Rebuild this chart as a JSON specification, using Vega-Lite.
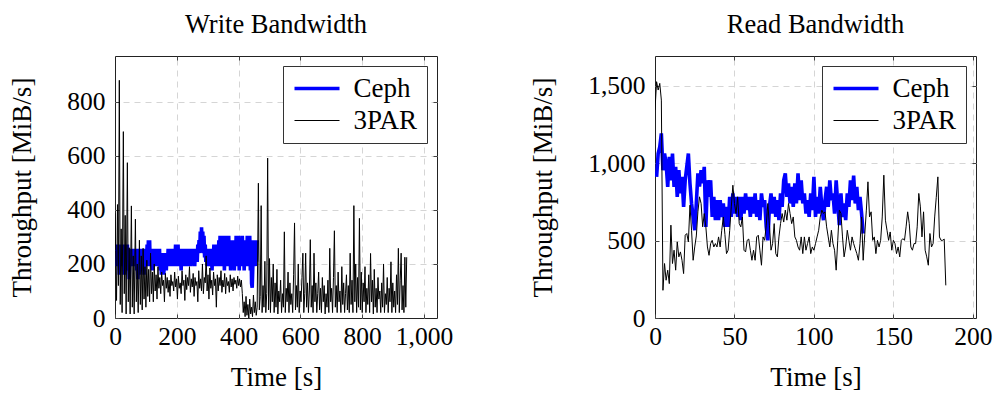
{
"$schema": "https://vega.github.io/schema/vega-lite/v6.json",
"padding": {"left": 8, "top": 11, "right": 0, "bottom": 0},
"bounds": "flush",
"spacing": 218,
"config": {
  "font": "Liberation Serif",
  "view": {"stroke": "#222", "strokeWidth": 1},
  "axis": {"grid": false, "gridColor": "#d5d5d5", "gridDash": [6, 5], "gridWidth": 1, "domain": false, "ticks": true, "tickSize": -4, "tickColor": "#444", "labelFlush": false, "labelFontSize": 25.5, "labelColor": "#000", "labelPadding": 7, "titleFontSize": 27, "titleFontWeight": "normal", "titleColor": "#000"},
  "axisY": {"titlePadding": 30, "labelPadding": 14},
  "axisX": {"titlePadding": 15, "labelPadding": 10},
  "title": {"fontSize": 26.5, "fontWeight": "normal", "color": "#000", "baseline": "alphabetic", "offset": 17, "frame": "group"},
  "legend": {"orient": "top-right", "offset": 10, "padding": 9, "strokeColor": "#333", "fillColor": "#fff", "labelFontSize": 27, "labelColor": "#000", "labelLimit": 300, "symbolType": "M-2.45,0H2.05", "symbolSize": 400, "symbolOffset": 13.5, "labelOffset": 21, "rowPadding": 4}
},
"datasets": {
"wc": [{"t":0,"v":240},{"t":2,"v":208},{"t":4,"v":256},{"t":6,"v":192},{"t":8,"v":272},{"t":10,"v":208},{"t":12,"v":256},{"t":14,"v":160},{"t":16,"v":272},{"t":18,"v":208},{"t":20,"v":256},{"t":22,"v":192},{"t":24,"v":272},{"t":26,"v":208},{"t":28,"v":256},{"t":30,"v":160},{"t":32,"v":272},{"t":34,"v":208},{"t":36,"v":256},{"t":38,"v":192},{"t":40,"v":272},{"t":42,"v":176},{"t":44,"v":256},{"t":46,"v":144},{"t":48,"v":256},{"t":50,"v":208},{"t":52,"v":240},{"t":54,"v":192},{"t":56,"v":256},{"t":58,"v":208},{"t":60,"v":240},{"t":62,"v":192},{"t":64,"v":256},{"t":66,"v":208},{"t":68,"v":240},{"t":70,"v":176},{"t":72,"v":256},{"t":74,"v":144},{"t":76,"v":240},{"t":78,"v":160},{"t":80,"v":256},{"t":82,"v":192},{"t":84,"v":240},{"t":86,"v":208},{"t":88,"v":256},{"t":90,"v":176},{"t":92,"v":240},{"t":94,"v":160},{"t":96,"v":256},{"t":98,"v":192},{"t":100,"v":256},{"t":102,"v":208},{"t":104,"v":272},{"t":106,"v":192},{"t":108,"v":288},{"t":110,"v":208},{"t":112,"v":288},{"t":114,"v":192},{"t":116,"v":256},{"t":118,"v":208},{"t":120,"v":256},{"t":122,"v":176},{"t":124,"v":240},{"t":126,"v":208},{"t":128,"v":256},{"t":130,"v":192},{"t":132,"v":256},{"t":134,"v":208},{"t":136,"v":256},{"t":138,"v":192},{"t":140,"v":256},{"t":142,"v":208},{"t":144,"v":256},{"t":146,"v":176},{"t":148,"v":240},{"t":150,"v":160},{"t":152,"v":240},{"t":154,"v":176},{"t":156,"v":224},{"t":158,"v":160},{"t":160,"v":240},{"t":162,"v":192},{"t":164,"v":224},{"t":166,"v":176},{"t":168,"v":240},{"t":170,"v":208},{"t":172,"v":256},{"t":174,"v":192},{"t":176,"v":256},{"t":178,"v":208},{"t":180,"v":256},{"t":182,"v":192},{"t":184,"v":256},{"t":186,"v":208},{"t":188,"v":240},{"t":190,"v":192},{"t":192,"v":256},{"t":194,"v":208},{"t":196,"v":272},{"t":198,"v":192},{"t":200,"v":272},{"t":202,"v":208},{"t":204,"v":272},{"t":206,"v":192},{"t":208,"v":256},{"t":210,"v":208},{"t":212,"v":256},{"t":214,"v":176},{"t":216,"v":256},{"t":218,"v":208},{"t":220,"v":240},{"t":222,"v":192},{"t":224,"v":256},{"t":226,"v":208},{"t":228,"v":256},{"t":230,"v":192},{"t":232,"v":240},{"t":234,"v":208},{"t":236,"v":256},{"t":238,"v":192},{"t":240,"v":240},{"t":242,"v":208},{"t":244,"v":256},{"t":246,"v":192},{"t":248,"v":256},{"t":250,"v":208},{"t":252,"v":240},{"t":254,"v":208},{"t":256,"v":256},{"t":258,"v":192},{"t":260,"v":256},{"t":262,"v":224},{"t":264,"v":256},{"t":266,"v":208},{"t":268,"v":272},{"t":270,"v":240},{"t":272,"v":288},{"t":274,"v":240},{"t":276,"v":320},{"t":278,"v":256},{"t":280,"v":336},{"t":282,"v":272},{"t":284,"v":320},{"t":286,"v":240},{"t":288,"v":304},{"t":290,"v":224},{"t":292,"v":272},{"t":294,"v":208},{"t":296,"v":256},{"t":298,"v":192},{"t":300,"v":256},{"t":302,"v":208},{"t":304,"v":256},{"t":306,"v":192},{"t":308,"v":240},{"t":310,"v":208},{"t":312,"v":256},{"t":314,"v":176},{"t":316,"v":256},{"t":318,"v":208},{"t":320,"v":272},{"t":322,"v":192},{"t":324,"v":256},{"t":326,"v":208},{"t":328,"v":272},{"t":330,"v":192},{"t":332,"v":256},{"t":334,"v":208},{"t":336,"v":288},{"t":338,"v":192},{"t":340,"v":304},{"t":342,"v":208},{"t":344,"v":304},{"t":346,"v":192},{"t":348,"v":288},{"t":350,"v":208},{"t":352,"v":304},{"t":354,"v":176},{"t":356,"v":288},{"t":358,"v":208},{"t":360,"v":304},{"t":362,"v":192},{"t":364,"v":288},{"t":366,"v":208},{"t":368,"v":304},{"t":370,"v":192},{"t":372,"v":288},{"t":374,"v":176},{"t":376,"v":272},{"t":378,"v":208},{"t":380,"v":288},{"t":382,"v":192},{"t":384,"v":256},{"t":386,"v":176},{"t":388,"v":272},{"t":390,"v":208},{"t":392,"v":304},{"t":394,"v":192},{"t":396,"v":288},{"t":398,"v":208},{"t":400,"v":304},{"t":402,"v":176},{"t":404,"v":288},{"t":406,"v":208},{"t":408,"v":272},{"t":410,"v":192},{"t":412,"v":304},{"t":414,"v":208},{"t":416,"v":288},{"t":418,"v":176},{"t":420,"v":272},{"t":422,"v":224},{"t":424,"v":288},{"t":426,"v":192},{"t":428,"v":304},{"t":430,"v":208},{"t":432,"v":288},{"t":434,"v":192},{"t":436,"v":304},{"t":438,"v":176},{"t":440,"v":288},{"t":442,"v":128},{"t":444,"v":112},{"t":446,"v":192},{"t":448,"v":288},{"t":450,"v":208},{"t":452,"v":288},{"t":454,"v":192},{"t":456,"v":288},{"t":458,"v":208},{"t":460,"v":288}],
"w3": [{"t":0,"v":388},{"t":2,"v":250},{"t":5,"v":65},{"t":8,"v":420},{"t":11,"v":120},{"t":14,"v":880},{"t":17,"v":50},{"t":20,"v":330},{"t":23,"v":20},{"t":27,"v":690},{"t":30,"v":90},{"t":33,"v":380},{"t":36,"v":15},{"t":40,"v":575},{"t":43,"v":60},{"t":46,"v":260},{"t":49,"v":15},{"t":53,"v":415},{"t":56,"v":40},{"t":59,"v":230},{"t":62,"v":15},{"t":66,"v":366},{"t":69,"v":60},{"t":72,"v":200},{"t":75,"v":20},{"t":79,"v":288},{"t":82,"v":50},{"t":85,"v":230},{"t":88,"v":30},{"t":91,"v":258},{"t":94,"v":70},{"t":97,"v":190},{"t":100,"v":40},{"t":103,"v":214},{"t":106,"v":80},{"t":109,"v":180},{"t":112,"v":60},{"t":115,"v":240},{"t":118,"v":90},{"t":121,"v":170},{"t":124,"v":60},{"t":127,"v":200},{"t":130,"v":100},{"t":133,"v":160},{"t":136,"v":70},{"t":139,"v":190},{"t":142,"v":110},{"t":145,"v":150},{"t":148,"v":90},{"t":151,"v":170},{"t":154,"v":120},{"t":157,"v":140},{"t":160,"v":60},{"t":163,"v":165},{"t":166,"v":110},{"t":169,"v":150},{"t":172,"v":95},{"t":175,"v":140},{"t":178,"v":80},{"t":181,"v":160},{"t":184,"v":120},{"t":187,"v":135},{"t":190,"v":100},{"t":193,"v":170},{"t":196,"v":115},{"t":199,"v":145},{"t":202,"v":70},{"t":205,"v":155},{"t":208,"v":110},{"t":211,"v":130},{"t":214,"v":90},{"t":217,"v":175},{"t":220,"v":120},{"t":223,"v":140},{"t":226,"v":65},{"t":229,"v":160},{"t":232,"v":105},{"t":235,"v":150},{"t":238,"v":120},{"t":241,"v":190},{"t":244,"v":95},{"t":247,"v":145},{"t":250,"v":115},{"t":253,"v":165},{"t":256,"v":80},{"t":259,"v":150},{"t":262,"v":120},{"t":265,"v":135},{"t":268,"v":60},{"t":271,"v":175},{"t":274,"v":110},{"t":277,"v":145},{"t":280,"v":100},{"t":283,"v":200},{"t":286,"v":90},{"t":289,"v":150},{"t":292,"v":130},{"t":295,"v":230},{"t":298,"v":100},{"t":301,"v":160},{"t":304,"v":70},{"t":307,"v":185},{"t":310,"v":110},{"t":313,"v":140},{"t":316,"v":85},{"t":319,"v":170},{"t":322,"v":120},{"t":325,"v":145},{"t":328,"v":40},{"t":331,"v":160},{"t":334,"v":100},{"t":337,"v":150},{"t":340,"v":120},{"t":343,"v":175},{"t":346,"v":95},{"t":349,"v":140},{"t":352,"v":115},{"t":355,"v":165},{"t":358,"v":90},{"t":361,"v":150},{"t":364,"v":120},{"t":367,"v":135},{"t":370,"v":95},{"t":373,"v":160},{"t":376,"v":115},{"t":379,"v":145},{"t":382,"v":100},{"t":385,"v":150},{"t":388,"v":125},{"t":391,"v":140},{"t":394,"v":110},{"t":397,"v":155},{"t":400,"v":120},{"t":403,"v":145},{"t":406,"v":115},{"t":409,"v":140},{"t":412,"v":90},{"t":415,"v":20},{"t":418,"v":60},{"t":421,"v":5},{"t":424,"v":80},{"t":427,"v":10},{"t":430,"v":50},{"t":433,"v":0},{"t":436,"v":70},{"t":439,"v":15},{"t":442,"v":40},{"t":445,"v":5},{"t":448,"v":85},{"t":451,"v":20},{"t":454,"v":60},{"t":457,"v":10},{"t":460,"v":40},{"t":464,"v":499},{"t":467,"v":30},{"t":470,"v":80},{"t":473,"v":416},{"t":476,"v":20},{"t":479,"v":120},{"t":482,"v":40},{"t":485,"v":210},{"t":488,"v":20},{"t":491,"v":90},{"t":494,"v":592},{"t":497,"v":30},{"t":500,"v":220},{"t":503,"v":20},{"t":506,"v":150},{"t":509,"v":60},{"t":512,"v":200},{"t":515,"v":20},{"t":518,"v":130},{"t":521,"v":40},{"t":524,"v":180},{"t":527,"v":15},{"t":530,"v":100},{"t":533,"v":60},{"t":536,"v":140},{"t":539,"v":20},{"t":542,"v":90},{"t":545,"v":40},{"t":548,"v":319},{"t":551,"v":20},{"t":554,"v":110},{"t":557,"v":60},{"t":560,"v":170},{"t":563,"v":20},{"t":566,"v":130},{"t":569,"v":50},{"t":572,"v":90},{"t":575,"v":20},{"t":578,"v":160},{"t":581,"v":352},{"t":584,"v":30},{"t":587,"v":120},{"t":590,"v":40},{"t":593,"v":200},{"t":596,"v":20},{"t":599,"v":100},{"t":602,"v":60},{"t":605,"v":150},{"t":608,"v":240},{"t":611,"v":20},{"t":614,"v":90},{"t":617,"v":240},{"t":620,"v":40},{"t":623,"v":130},{"t":626,"v":20},{"t":629,"v":100},{"t":632,"v":290},{"t":635,"v":40},{"t":638,"v":120},{"t":641,"v":20},{"t":644,"v":240},{"t":647,"v":60},{"t":650,"v":130},{"t":653,"v":20},{"t":656,"v":90},{"t":659,"v":170},{"t":662,"v":30},{"t":665,"v":110},{"t":668,"v":20},{"t":671,"v":150},{"t":674,"v":60},{"t":677,"v":120},{"t":680,"v":15},{"t":683,"v":90},{"t":686,"v":40},{"t":689,"v":140},{"t":692,"v":20},{"t":695,"v":258},{"t":698,"v":60},{"t":701,"v":110},{"t":704,"v":20},{"t":707,"v":150},{"t":710,"v":323},{"t":713,"v":40},{"t":716,"v":120},{"t":719,"v":20},{"t":722,"v":170},{"t":725,"v":60},{"t":728,"v":100},{"t":731,"v":20},{"t":734,"v":190},{"t":737,"v":50},{"t":740,"v":130},{"t":743,"v":20},{"t":746,"v":90},{"t":749,"v":160},{"t":752,"v":30},{"t":755,"v":120},{"t":758,"v":20},{"t":761,"v":240},{"t":764,"v":50},{"t":767,"v":140},{"t":770,"v":20},{"t":773,"v":416},{"t":776,"v":60},{"t":779,"v":200},{"t":782,"v":20},{"t":785,"v":150},{"t":788,"v":40},{"t":791,"v":369},{"t":794,"v":30},{"t":797,"v":170},{"t":800,"v":20},{"t":803,"v":130},{"t":806,"v":60},{"t":809,"v":190},{"t":812,"v":20},{"t":815,"v":110},{"t":818,"v":50},{"t":821,"v":160},{"t":824,"v":20},{"t":827,"v":239},{"t":830,"v":60},{"t":833,"v":140},{"t":836,"v":15},{"t":839,"v":180},{"t":842,"v":40},{"t":845,"v":110},{"t":848,"v":20},{"t":851,"v":150},{"t":854,"v":70},{"t":857,"v":100},{"t":860,"v":20},{"t":863,"v":130},{"t":866,"v":40},{"t":869,"v":200},{"t":872,"v":20},{"t":875,"v":90},{"t":878,"v":50},{"t":881,"v":150},{"t":884,"v":20},{"t":887,"v":110},{"t":890,"v":60},{"t":893,"v":208},{"t":896,"v":20},{"t":899,"v":130},{"t":902,"v":40},{"t":905,"v":100},{"t":908,"v":20},{"t":911,"v":160},{"t":914,"v":50},{"t":917,"v":258},{"t":920,"v":20},{"t":923,"v":140},{"t":926,"v":240},{"t":929,"v":30},{"t":932,"v":120},{"t":935,"v":20},{"t":938,"v":225},{"t":941,"v":40},{"t":944,"v":225}],
"rc": [{"t":1,"v":912},{"t":2,"v":1063},{"t":3,"v":1106},{"t":4,"v":1193},{"t":5,"v":955},{"t":6,"v":1063},{"t":7,"v":1000},{"t":8,"v":847},{"t":9,"v":1041},{"t":10,"v":890},{"t":11,"v":1063},{"t":12,"v":847},{"t":13,"v":977},{"t":14,"v":783},{"t":15,"v":955},{"t":16,"v":805},{"t":17,"v":912},{"t":18,"v":718},{"t":19,"v":890},{"t":20,"v":977},{"t":21,"v":1063},{"t":22,"v":870},{"t":23,"v":740},{"t":24,"v":653},{"t":25,"v":567},{"t":26,"v":740},{"t":27,"v":934},{"t":28,"v":850},{"t":29,"v":955},{"t":30,"v":870},{"t":31,"v":977},{"t":32,"v":589},{"t":33,"v":890},{"t":34,"v":783},{"t":35,"v":890},{"t":36,"v":653},{"t":37,"v":783},{"t":38,"v":632},{"t":39,"v":761},{"t":40,"v":632},{"t":41,"v":761},{"t":42,"v":653},{"t":43,"v":740},{"t":44,"v":589},{"t":45,"v":718},{"t":46,"v":589},{"t":47,"v":783},{"t":48,"v":653},{"t":49,"v":805},{"t":50,"v":675},{"t":51,"v":783},{"t":52,"v":653},{"t":53,"v":783},{"t":54,"v":632},{"t":55,"v":783},{"t":56,"v":675},{"t":57,"v":805},{"t":58,"v":697},{"t":59,"v":783},{"t":60,"v":653},{"t":61,"v":783},{"t":62,"v":675},{"t":63,"v":805},{"t":64,"v":653},{"t":65,"v":761},{"t":66,"v":632},{"t":67,"v":805},{"t":68,"v":718},{"t":69,"v":761},{"t":70,"v":589},{"t":71,"v":502},{"t":72,"v":718},{"t":73,"v":805},{"t":74,"v":675},{"t":75,"v":783},{"t":76,"v":653},{"t":77,"v":761},{"t":78,"v":632},{"t":79,"v":805},{"t":80,"v":718},{"t":81,"v":890},{"t":82,"v":935},{"t":83,"v":783},{"t":84,"v":870},{"t":85,"v":740},{"t":86,"v":848},{"t":87,"v":718},{"t":88,"v":870},{"t":89,"v":740},{"t":90,"v":935},{"t":91,"v":761},{"t":92,"v":890},{"t":93,"v":740},{"t":94,"v":805},{"t":95,"v":675},{"t":96,"v":761},{"t":97,"v":653},{"t":98,"v":805},{"t":99,"v":697},{"t":100,"v":912},{"t":101,"v":653},{"t":102,"v":783},{"t":103,"v":675},{"t":104,"v":848},{"t":105,"v":718},{"t":106,"v":632},{"t":107,"v":761},{"t":108,"v":848},{"t":109,"v":718},{"t":110,"v":890},{"t":111,"v":761},{"t":112,"v":805},{"t":113,"v":675},{"t":114,"v":890},{"t":115,"v":740},{"t":116,"v":600},{"t":117,"v":805},{"t":118,"v":653},{"t":119,"v":740},{"t":120,"v":632},{"t":121,"v":805},{"t":122,"v":718},{"t":123,"v":890},{"t":124,"v":761},{"t":125,"v":920},{"t":126,"v":740},{"t":127,"v":848},{"t":128,"v":697},{"t":129,"v":783},{"t":130,"v":675},{"t":131,"v":546}],
"r3": [{"t":0,"v":1344},{"t":1,"v":1527},{"t":2,"v":1473},{"t":3,"v":1516},{"t":4,"v":1408},{"t":5,"v":179},{"t":6,"v":352},{"t":7,"v":244},{"t":8,"v":309},{"t":9,"v":222},{"t":10,"v":600},{"t":11,"v":352},{"t":12,"v":438},{"t":13,"v":309},{"t":14,"v":492},{"t":15,"v":395},{"t":16,"v":427},{"t":17,"v":373},{"t":18,"v":287},{"t":19,"v":535},{"t":20,"v":546},{"t":21,"v":492},{"t":22,"v":729},{"t":23,"v":567},{"t":24,"v":373},{"t":25,"v":459},{"t":26,"v":530},{"t":27,"v":686},{"t":28,"v":783},{"t":29,"v":740},{"t":30,"v":589},{"t":31,"v":675},{"t":32,"v":589},{"t":33,"v":459},{"t":34,"v":405},{"t":35,"v":481},{"t":36,"v":502},{"t":37,"v":459},{"t":38,"v":481},{"t":39,"v":459},{"t":40,"v":524},{"t":41,"v":459},{"t":42,"v":567},{"t":43,"v":653},{"t":44,"v":540},{"t":45,"v":416},{"t":46,"v":438},{"t":47,"v":567},{"t":48,"v":718},{"t":49,"v":858},{"t":50,"v":740},{"t":51,"v":675},{"t":52,"v":783},{"t":53,"v":610},{"t":54,"v":589},{"t":55,"v":653},{"t":56,"v":438},{"t":57,"v":427},{"t":58,"v":502},{"t":59,"v":510},{"t":60,"v":438},{"t":61,"v":373},{"t":62,"v":438},{"t":63,"v":373},{"t":64,"v":524},{"t":65,"v":535},{"t":66,"v":438},{"t":67,"v":341},{"t":68,"v":524},{"t":69,"v":502},{"t":70,"v":600},{"t":71,"v":740},{"t":72,"v":600},{"t":73,"v":438},{"t":74,"v":481},{"t":75,"v":610},{"t":76,"v":416},{"t":77,"v":395},{"t":78,"v":524},{"t":79,"v":610},{"t":80,"v":675},{"t":81,"v":620},{"t":82,"v":697},{"t":83,"v":632},{"t":84,"v":740},{"t":85,"v":675},{"t":86,"v":610},{"t":87,"v":653},{"t":88,"v":524},{"t":89,"v":502},{"t":90,"v":459},{"t":91,"v":438},{"t":92,"v":524},{"t":93,"v":416},{"t":94,"v":524},{"t":95,"v":438},{"t":96,"v":481},{"t":97,"v":524},{"t":98,"v":416},{"t":99,"v":459},{"t":100,"v":438},{"t":101,"v":481},{"t":102,"v":524},{"t":103,"v":567},{"t":104,"v":653},{"t":105,"v":697},{"t":106,"v":675},{"t":107,"v":686},{"t":108,"v":589},{"t":109,"v":524},{"t":110,"v":459},{"t":111,"v":567},{"t":112,"v":481},{"t":113,"v":438},{"t":114,"v":309},{"t":115,"v":502},{"t":116,"v":697},{"t":117,"v":675},{"t":118,"v":524},{"t":119,"v":395},{"t":120,"v":459},{"t":121,"v":567},{"t":122,"v":502},{"t":123,"v":438},{"t":124,"v":524},{"t":125,"v":481},{"t":126,"v":448},{"t":127,"v":416},{"t":128,"v":373},{"t":129,"v":481},{"t":130,"v":653},{"t":131,"v":373},{"t":132,"v":540},{"t":133,"v":697},{"t":134,"v":880},{"t":135,"v":653},{"t":136,"v":686},{"t":137,"v":502},{"t":138,"v":524},{"t":139,"v":416},{"t":140,"v":502},{"t":141,"v":459},{"t":142,"v":502},{"t":143,"v":653},{"t":144,"v":923},{"t":145,"v":632},{"t":146,"v":567},{"t":147,"v":502},{"t":148,"v":556},{"t":149,"v":438},{"t":150,"v":502},{"t":151,"v":481},{"t":152,"v":416},{"t":153,"v":459},{"t":154,"v":395},{"t":155,"v":502},{"t":156,"v":513},{"t":157,"v":502},{"t":158,"v":589},{"t":159,"v":686},{"t":160,"v":610},{"t":161,"v":459},{"t":162,"v":438},{"t":163,"v":481},{"t":164,"v":481},{"t":165,"v":589},{"t":166,"v":805},{"t":167,"v":718},{"t":168,"v":524},{"t":169,"v":686},{"t":170,"v":438},{"t":171,"v":395},{"t":172,"v":341},{"t":173,"v":546},{"t":174,"v":459},{"t":175,"v":481},{"t":176,"v":653},{"t":177,"v":780},{"t":178,"v":912},{"t":179,"v":524},{"t":180,"v":502},{"t":181,"v":502},{"t":182,"v":510},{"t":183,"v":211}]
},
"hconcat": [
  {
    "title": {"text": "Write Bandwidth"},
    "width": 322, "height": 262,
    "layer": [
      {"data": {"name": "wc"}, "mark": {"type": "line", "clip": true},
       "encoding": {
         "x": {"field": "t", "type": "quantitative", "scale": {"domain": [0, 1042], "nice": false}, "axis": {"title": "Time [s]", "values": [0, 200, 400, 600, 800, 1000], "format": ",d"}},
         "y": {"field": "v", "type": "quantitative", "scale": {"domain": [0, 970], "nice": false}, "axis": {"title": "Throughput [MiB/s]", "values": [0, 200, 400, 600, 800], "format": ",d"}},
         "color": {"datum": "Ceph", "type": "nominal", "scale": {"domain": ["Ceph", "3PAR"], "range": ["#0000ff", "#000000"]}, "legend": {"title": null}},
         "strokeWidth": {"datum": "Ceph", "type": "nominal", "scale": {"type": "point", "padding": 0, "domain": ["Ceph", "3PAR"], "range": [3.6, 1.0]}, "legend": {"title": null}}
       }},
      {"data": {"name": "w3"}, "mark": {"type": "line", "clip": true},
       "encoding": {
         "x": {"field": "t", "type": "quantitative", "axis": {"orient": "top", "labels": false, "title": null, "grid": true, "values": [200, 400, 600, 800, 1000]}},
         "y": {"field": "v", "type": "quantitative", "axis": {"orient": "right", "labels": false, "title": null, "grid": true, "values": [200, 400, 600, 800]}},
         "color": {"datum": "3PAR", "type": "nominal"},
         "strokeWidth": {"datum": "3PAR", "type": "nominal"}
       }}
    ],
    "resolve": {"axis": {"x": "independent", "y": "independent"}}
  },
  {
    "title": {"text": "Read Bandwidth"},
    "width": 321, "height": 262,
    "layer": [
      {"data": {"name": "rc"}, "mark": {"type": "line", "clip": true},
       "encoding": {
         "x": {"field": "t", "type": "quantitative", "scale": {"domain": [0, 202], "nice": false}, "axis": {"title": "Time [s]", "values": [0, 50, 100, 150, 200], "format": ",d"}},
         "y": {"field": "v", "type": "quantitative", "scale": {"domain": [0, 1693], "nice": false}, "axis": {"title": "Throughput [MiB/s]", "values": [0, 500, 1000, 1500], "format": ",d"}},
         "color": {"datum": "Ceph", "type": "nominal", "scale": {"domain": ["Ceph", "3PAR"], "range": ["#0000ff", "#000000"]}, "legend": {"title": null}},
         "strokeWidth": {"datum": "Ceph", "type": "nominal", "scale": {"type": "point", "padding": 0, "domain": ["Ceph", "3PAR"], "range": [3.6, 1.0]}, "legend": {"title": null}}
       }},
      {"data": {"name": "r3"}, "mark": {"type": "line", "clip": true},
       "encoding": {
         "x": {"field": "t", "type": "quantitative", "axis": {"orient": "top", "labels": false, "title": null, "grid": true, "values": [50, 100, 150, 200]}},
         "y": {"field": "v", "type": "quantitative", "axis": {"orient": "right", "labels": false, "title": null, "grid": true, "values": [500, 1000, 1500]}},
         "color": {"datum": "3PAR", "type": "nominal"},
         "strokeWidth": {"datum": "3PAR", "type": "nominal"}
       }}
    ],
    "resolve": {"axis": {"x": "independent", "y": "independent"}}
  }
],
"resolve": {"scale": {"color": "independent", "strokeWidth": "independent"}, "legend": {"color": "independent", "strokeWidth": "independent"}}
}
